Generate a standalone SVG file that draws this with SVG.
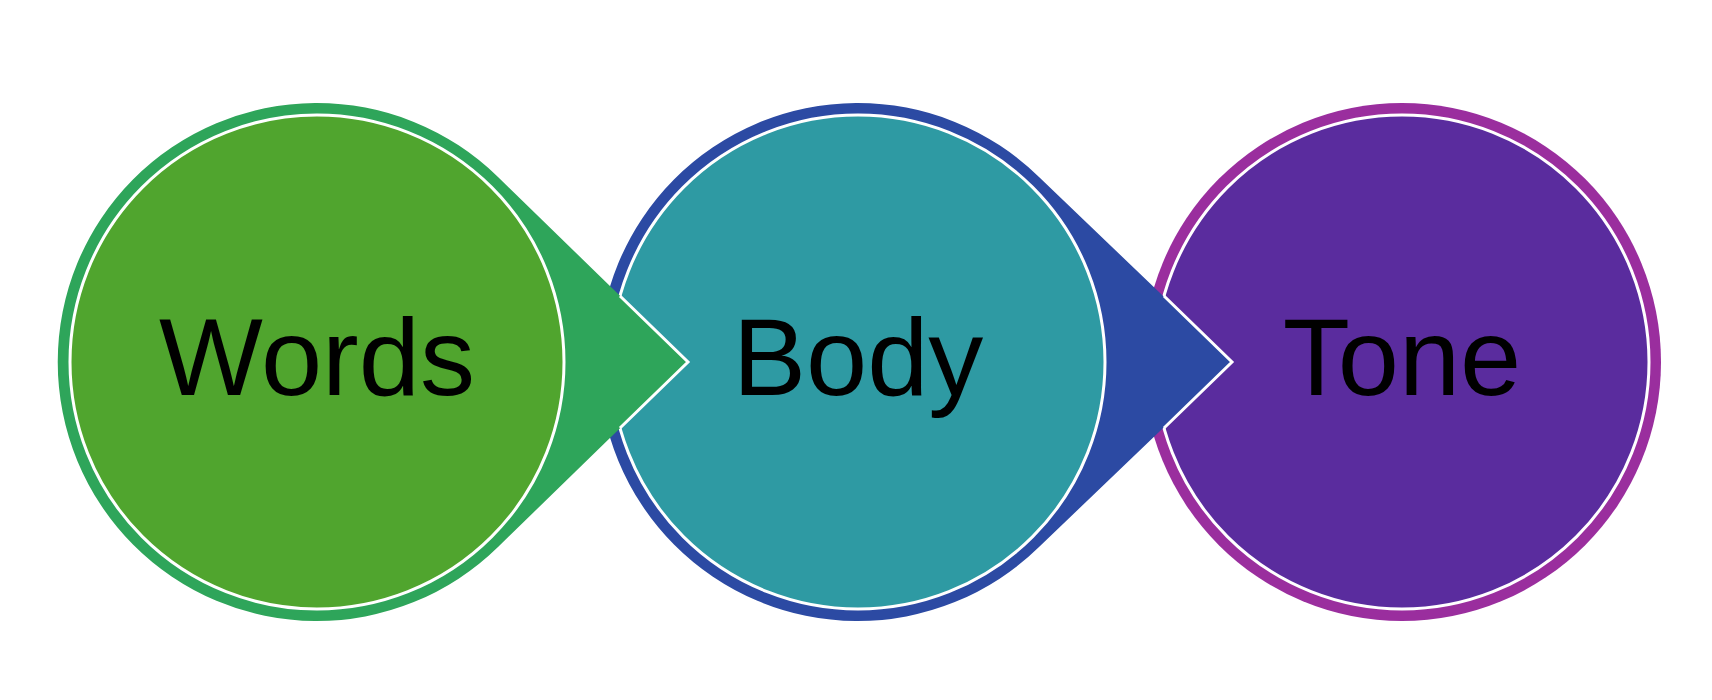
<svg xmlns="http://www.w3.org/2000/svg" width="1712" height="700" viewBox="0 0 1712 700">
<style>
text{font-family:"Liberation Sans",Arial,sans-serif;font-size:110px;fill:#000;text-anchor:middle}
.ring{fill:none;stroke:#fff;stroke-width:3}
.edge{fill:none;stroke:#fff;stroke-width:3}
</style>
<rect width="1712" height="700" fill="#fff"/>
<g id="tone">
<circle cx="1402" cy="362" r="259" fill="#9A2E9E"/>
<circle cx="1402" cy="362" r="247" fill="#5A2C9E"/>
<circle class="ring" cx="1402" cy="362" r="247"/>
<text x="1402" y="395">Tone</text>
</g>
<g id="body">
<path d="M1039 177 L1232 362 L1039 547 A259 259 0 1 1 1039 177 Z" fill="#2C4AA3"/>
<circle cx="858" cy="362" r="247" fill="#2E9AA3"/>
<circle class="ring" cx="858" cy="362" r="247"/>
<text x="858" y="395">Body</text>
</g>
<g id="words">
<path d="M498 177 L688 362 L498 547 A259 259 0 1 1 498 177 Z" fill="#2EA55A"/>
<circle cx="317" cy="362" r="247" fill="#50A52E"/>
<circle class="ring" cx="317" cy="362" r="247"/>
<text x="317" y="395">Words</text>
</g>
<g id="connectors">
<path class="edge" d="M620 296 L688 362 L620 428"/>
<path class="edge" d="M1164 296 L1232 362 L1164 428"/>
</g>
</svg>
